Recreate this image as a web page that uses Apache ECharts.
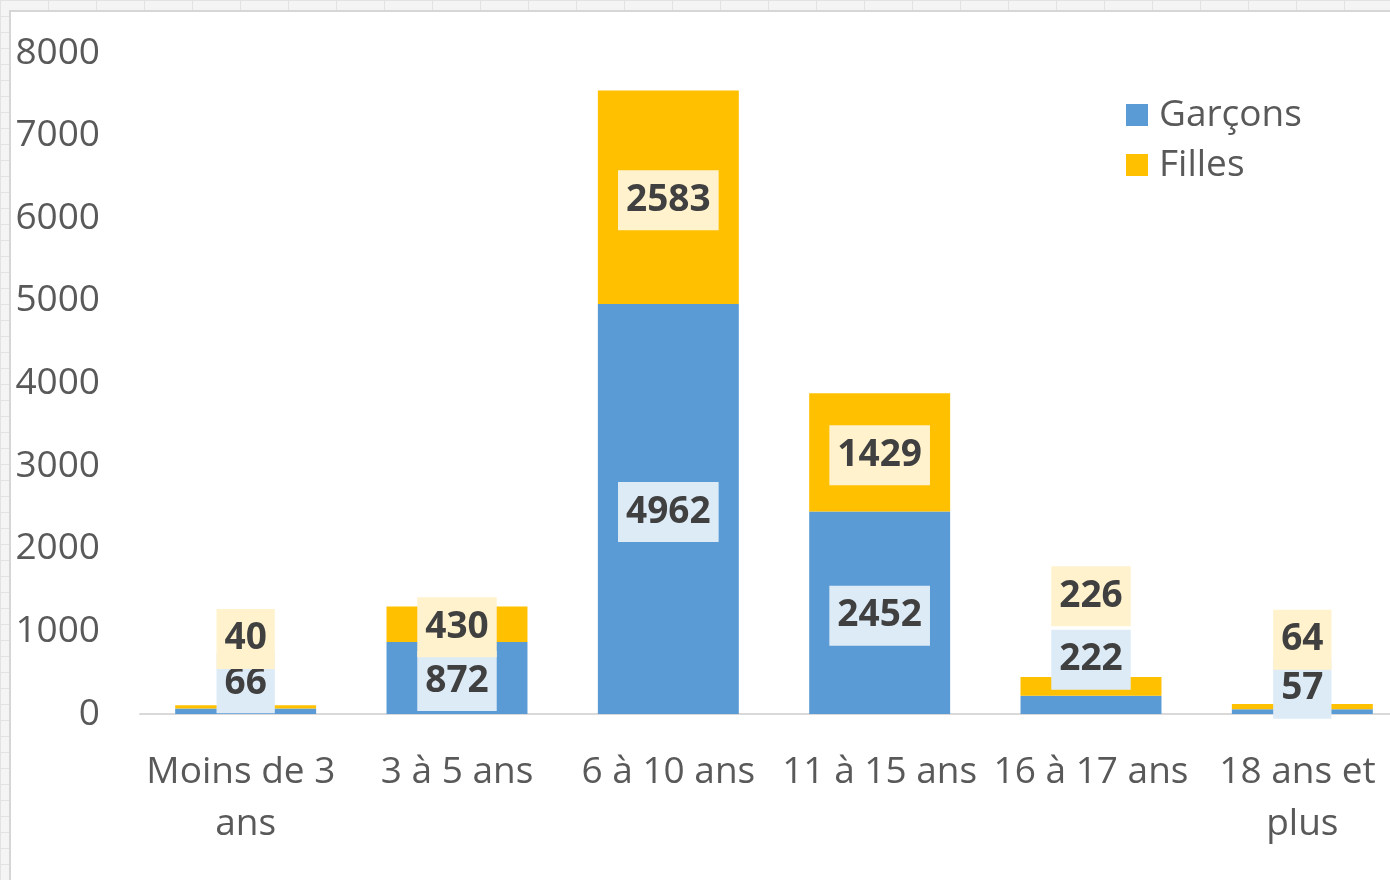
<!DOCTYPE html>
<html>
<head>
<meta charset="utf-8">
<script src="https://cdn.jsdelivr.net/npm/echarts@6/dist/echarts.min.js"></script>
<style>
  html, body { margin: 0; padding: 0; width: 1390px; height: 880px; overflow: hidden; }
  body {
    background-color: #f4f4f4;
    background-image:
      linear-gradient(to right, #e2e2e2 1px, transparent 1px),
      linear-gradient(to bottom, #e2e2e2 1px, transparent 1px);
    background-size: 48px 16px, 48px 16px;
    position: relative;
  }
  #frame { position: absolute; left: 9px; top: 10px; width: 1400px; height: 900px; background: #fff; border-left: 2px solid #d6d6d6; border-top: 2px solid #d6d6d6; }
  #chart { position: absolute; left: 0; top: 0; width: 1420px; height: 880px; }
</style>
</head>
<body>
<div id="frame"></div>
<div id="chart"></div>
<script>
const categories = ['Moins de 3 ans', '3 à 5 ans', '6 à 10 ans', '11 à 15 ans', '16 à 17 ans', '18 ans et plus'];
const garcons = [66, 872, 4962, 2452, 222, 57];
const filles = [40, 430, 2583, 1429, 226, 64];
const yTicks = [0, 1000, 2000, 3000, 4000, 5000, 6000, 7000, 8000];

// label vertical shifts (px) used in the original to lift labels off thin bars
const garconsLabelShift = [-31, 0, 0, 0, -48, -26];
const fillesLabelShift = [-71, 0, 0, 0, -93, -70];
const BASE_SHIFT = 3;

const FONT = '"Open Sans", "Liberation Sans", sans-serif';

function items(values, shifts) {
  return values.map((v, i) => ({ value: v, label: { offset: [0, shifts[i] + BASE_SHIFT] } }));
}

function labelStyle(bg) {
  return {
    show: true,
    position: 'inside',
    fontFamily: FONT,
    fontWeight: 'bold',
    fontSize: 37,
    lineHeight: 38,
    color: '#404040',
    backgroundColor: bg,
    padding: [11, 8, 11, 8]
  };
}

const chart = echarts.init(document.getElementById('chart'), null, { renderer: 'canvas' });
chart.setOption({
  backgroundColor: 'transparent',
  animation: false,
  grid: { left: 140, top: 53, width: 1268, height: 661, containLabel: false },
  legend: {
    orient: 'vertical',
    left: 1126,
    top: 95,
    padding: 0,
    itemWidth: 22,
    itemHeight: 22,
    itemGap: 10,
    icon: 'rect',
    textStyle: { fontFamily: FONT, fontSize: 37, color: '#595959', lineHeight: 40, padding: [0, 0, 0, 6] },
    data: ['Garçons', 'Filles']
  },
  xAxis: {
    type: 'category',
    data: categories,
    axisLine: { show: true, lineStyle: { color: '#d9d9d9', width: 2 } },
    axisTick: { show: false },
    axisLabel: {
      interval: 0,
      margin: 32,
      fontFamily: FONT,
      fontSize: 37,
      lineHeight: 52,
      color: '#595959',
      width: 225,
      overflow: 'break'
    }
  },
  yAxis: {
    type: 'value',
    min: yTicks[0],
    max: yTicks[yTicks.length - 1],
    interval: yTicks[1] - yTicks[0],
    axisLine: { show: false },
    axisTick: { show: false },
    splitLine: { show: false },
    axisLabel: { margin: 40, fontFamily: FONT, fontSize: 37, color: '#595959', padding: [4, 0, 0, 0], formatter: (v) => String(v) }
  },
  series: [
    {
      name: 'Garçons',
      type: 'bar',
      stack: 'total',
      barCategoryGap: '33.3%',
      itemStyle: { color: '#5B9BD5' },
      label: labelStyle('#DDEBF7'),
      data: items(garcons, garconsLabelShift),
      z: 2
    },
    {
      name: 'Filles',
      type: 'bar',
      stack: 'total',
      barCategoryGap: '33.3%',
      itemStyle: { color: '#FFC000' },
      label: labelStyle('#FFF2CC'),
      data: items(filles, fillesLabelShift),
      z: 2
    }
  ]
});
</script>
</body>
</html>
